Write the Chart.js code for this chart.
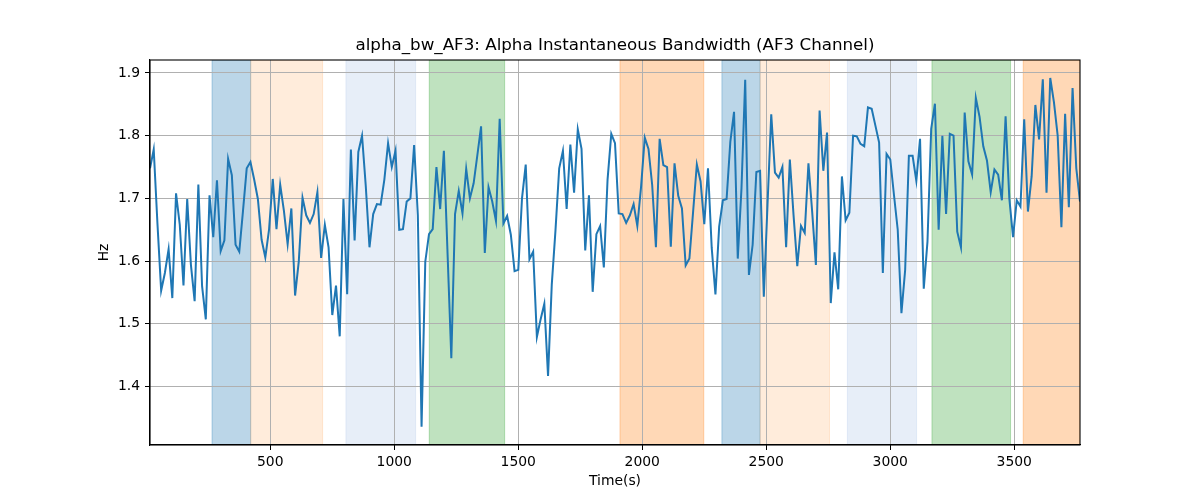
<!DOCTYPE html>
<html>
<head>
<meta charset="utf-8">
<script src="https://cdn.jsdelivr.net/npm/chart.js@4/dist/chart.umd.min.js"></script>
<style>
  html, body { margin: 0; padding: 0; background: #fff; }
  #wrap { width: 1200px; height: 500px; }
</style>
</head>
<body>
<div id="wrap"><canvas id="chartBw" width="1200" height="500"></canvas></div>
<script>
// sample times: first sample and spacing (seconds)
const t0 = 15
const dt = 15

// alpha bandwidth (Hz), one value per sample
const bandwidth = [
    1.748, 1.778, 1.660, 1.553, 1.581, 1.619, 1.541, 1.708, 1.658, 1.561,
    1.699, 1.594, 1.536, 1.722, 1.560, 1.507, 1.705, 1.638, 1.729, 1.616,
    1.633, 1.763, 1.737, 1.626, 1.615, 1.680, 1.748, 1.758, 1.730, 1.699,
    1.634, 1.606, 1.650, 1.731, 1.651, 1.722, 1.680, 1.627, 1.684, 1.545,
    1.600, 1.701, 1.673, 1.661, 1.675, 1.710, 1.605, 1.658, 1.622, 1.514,
    1.561, 1.480, 1.699, 1.547, 1.778, 1.633, 1.774, 1.800, 1.720, 1.622,
    1.675, 1.691, 1.690, 1.730, 1.788, 1.750, 1.776, 1.650, 1.651, 1.695,
    1.700, 1.785, 1.673, 1.336, 1.599, 1.643, 1.651, 1.750, 1.683, 1.776,
    1.610, 1.445, 1.675, 1.712, 1.676, 1.747, 1.700, 1.724, 1.769, 1.815,
    1.613, 1.718, 1.695, 1.664, 1.827, 1.660, 1.672, 1.642, 1.584, 1.586,
    1.700, 1.754, 1.603, 1.615, 1.479, 1.507, 1.532, 1.417, 1.562, 1.649,
    1.748, 1.776, 1.683, 1.786, 1.709, 1.810, 1.779, 1.617, 1.705, 1.551,
    1.643, 1.656, 1.590, 1.730, 1.803, 1.788, 1.676, 1.675, 1.661, 1.673,
    1.691, 1.656, 1.718, 1.797, 1.779, 1.721, 1.622, 1.795, 1.753, 1.750,
    1.623, 1.756, 1.704, 1.684, 1.593, 1.604, 1.679, 1.754, 1.727, 1.659,
    1.748, 1.621, 1.547, 1.655, 1.697, 1.699, 1.790, 1.838, 1.604, 1.716,
    1.889, 1.578, 1.626, 1.742, 1.744, 1.543, 1.690, 1.834, 1.741, 1.733,
    1.750, 1.622, 1.762, 1.673, 1.592, 1.656, 1.645, 1.756, 1.679, 1.594,
    1.840, 1.744, 1.805, 1.533, 1.614, 1.555, 1.735, 1.665, 1.677, 1.800,
    1.799, 1.787, 1.783, 1.845, 1.843, 1.816, 1.789, 1.581, 1.771, 1.762,
    1.705, 1.650, 1.517, 1.586, 1.768, 1.768, 1.728, 1.795, 1.556, 1.631,
    1.811, 1.851, 1.650, 1.800, 1.675, 1.803, 1.800, 1.647, 1.622, 1.837,
    1.759, 1.738, 1.860, 1.830, 1.783, 1.760, 1.710, 1.746, 1.738, 1.697,
    1.831, 1.700, 1.638, 1.697, 1.687, 1.826, 1.679, 1.735, 1.849, 1.794,
    1.890, 1.709, 1.892, 1.853, 1.800, 1.654, 1.835, 1.686, 1.876, 1.748,
    1.695
]

// shaded intervals (seconds) and their kind
const spanStart = [265, 421, 805, 1141, 1910, 2321, 2475, 2827, 3168, 3536]
const spanEnd   = [421, 711, 1086, 1445, 2248, 2475, 2755, 3106, 3485, 3765]
const spanKind  = ['blue', 'peach', 'sky', 'green', 'orange', 'blue', 'peach', 'sky', 'green', 'orange']

const xTicks = [500, 1000, 1500, 2000, 2500, 3000, 3500]
const yTicks = [1.4, 1.5, 1.6, 1.7, 1.8, 1.9]

const kindColor = {
    blue: 'rgba(31, 119, 180, 0.3)',
    peach: 'rgba(255, 127, 14, 0.15)',
    sky: 'rgba(174, 199, 232, 0.3)',
    green: 'rgba(44, 160, 44, 0.3)',
    orange: 'rgba(255, 127, 14, 0.3)'
}

const points = bandwidth.map((v, i) => ({ x: t0 + dt * i, y: v }))
const xMin = t0
const xMax = t0 + dt * (bandwidth.length - 1)

const FONT = "'DejaVu Sans', sans-serif"

// spans go under the grid, frame + title on top
const decorations = {
    id: 'decorations',
    beforeDraw(chart) {
        const { ctx, chartArea: a, scales } = chart
        ctx.save()
        ctx.beginPath()
        ctx.rect(a.left, a.top, a.right - a.left, a.bottom - a.top)
        ctx.clip()
        spanStart.forEach((s, i) => {
            const x1 = scales.x.getPixelForValue(s)
            const x2 = scales.x.getPixelForValue(spanEnd[i])
            ctx.fillStyle = kindColor[spanKind[i]]
            ctx.strokeStyle = kindColor[spanKind[i]]
            ctx.lineWidth = 1
            ctx.fillRect(x1, a.top, x2 - x1, a.bottom - a.top)
            ctx.strokeRect(x1, a.top, x2 - x1, a.bottom - a.top)
        })
        ctx.restore()
    },
    afterDraw(chart) {
        const { ctx, chartArea: a } = chart
        ctx.save()
        ctx.strokeStyle = '#000'
        ctx.lineWidth = 1.1
        ctx.strokeRect(a.left, a.top, a.right - a.left, a.bottom - a.top)
        ctx.fillStyle = '#000'
        ctx.font = '16.7px ' + FONT
        ctx.textAlign = 'center'
        ctx.textBaseline = 'middle'
        ctx.fillText('alpha_bw_AF3: Alpha Instantaneous Bandwidth (AF3 Channel)', (a.left + a.right) / 2, 46)
        ctx.restore()
    }
}

const config = {
    type: 'line',
    data: {
        datasets: [{
            label: 'alpha_bw_AF3',
            data: points,
            borderColor: '#1f77b4',
            borderWidth: 2,
            pointRadius: 0,
            tension: 0,
            fill: false
        }]
    },
    options: {
        responsive: false,
        animation: false,
        layout: {
            padding: { left: 0, right: 120, top: 60, bottom: 0 }
        },
        plugins: {
            legend: { display: false },
            title: { display: false },
            tooltip: { enabled: false }
        },
        scales: {
            x: {
                type: 'linear',
                min: xMin,
                max: xMax,
                afterFit: s => { s.height = 55 },
                afterBuildTicks: s => { s.ticks = xTicks.map(v => ({ value: v })) },
                grid: { color: '#b0b0b0', lineWidth: 1, tickColor: '#000', tickLength: 5 },
                border: { color: '#000', width: 1.1 },
                ticks: {
                    color: '#000',
                    padding: 4,
                    maxRotation: 0,
                    font: { family: FONT, size: 13.9 },
                    callback: v => String(v)
                },
                title: {
                    display: true,
                    text: 'Time(s)',
                    color: '#000',
                    font: { family: FONT, size: 13.9 },
                    padding: { top: 0, bottom: 10 }
                }
            },
            y: {
                min: 1.3067,
                max: 1.9207,
                afterFit: s => { s.width = 150 },
                afterBuildTicks: s => { s.ticks = yTicks.map(v => ({ value: v })) },
                grid: { color: '#b0b0b0', lineWidth: 1, tickColor: '#000', tickLength: 5 },
                border: { color: '#000', width: 1.1 },
                ticks: {
                    color: '#000',
                    padding: 5,
                    font: { family: FONT, size: 13.9 },
                    callback: v => v.toFixed(1)
                },
                title: {
                    display: true,
                    text: 'Hz',
                    color: '#000',
                    font: { family: FONT, size: 13.9 },
                    padding: { top: 96, bottom: 0 }
                }
            }
        }
    },
    plugins: [decorations]
}

new Chart(document.getElementById('chartBw'), config)
</script>
</body>
</html>
